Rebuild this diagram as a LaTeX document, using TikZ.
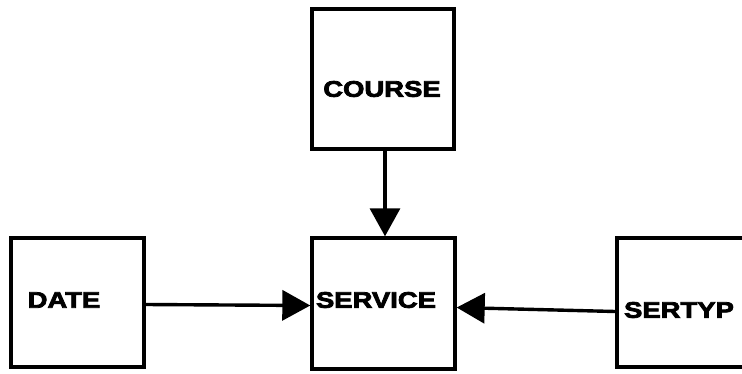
\documentclass[tikz,border=0pt]{standalone}
\usepackage{fontspec}
\newfontfamily\boxfont{Liberation Sans}[UprightFont={* Bold}, FakeStretch=1.22, FakeBold=3.5]
\usetikzlibrary{arrows.meta, positioning, calc}

\begin{document}
\begin{tikzpicture}[
  x=1pt, y=-1pt,
  entity/.style={rectangle, draw=black, line width=3.4pt, inner sep=0pt},
  lbl/.style={inner sep=0pt, font=\boxfont\fontsize{22.5}{22.5}\selectfont},
  arr/.style={-{Triangle[length=28pt, width=30pt]}, line width=3.4pt}
]
  \clip (0,0) rectangle (742,373);
  \fill[white] (0,0) rectangle (742,373);

  % boxes
  \node[entity, minimum width=142pt, minimum height=140pt] (course)  at (383,79)    {};
  \node[entity, minimum width=143pt, minimum height=131pt] (service) at (383.5,303.5) {};
  \node[entity, minimum width=133pt, minimum height=129pt] (date)    at (77.5,302.5) {};
  \node[entity, minimum width=153pt, minimum height=129pt] (sertyp)  at (693.5,302.5) {};

  % names
  \node[lbl] (courseL)  at (382,89)  {COURSE};
  \node[lbl] (serviceL) at (376,300) {SERVICE};
  \node[lbl] (dateL)    at (64,300)  {DATE};
  \node[lbl] (sertypL)  at (679,310) {SERTYP};

  % links
  \draw[arr] ([xshift=2pt]course.south) -- ([xshift=1.5pt]service.north);
  \draw[arr] ([yshift=-2pt]date.east) -- ([yshift=-2pt]service.west);
  \draw[arr] ([yshift=-9pt]sertyp.west) -- ([yshift=-4pt]service.east);
\end{tikzpicture}
\end{document}
